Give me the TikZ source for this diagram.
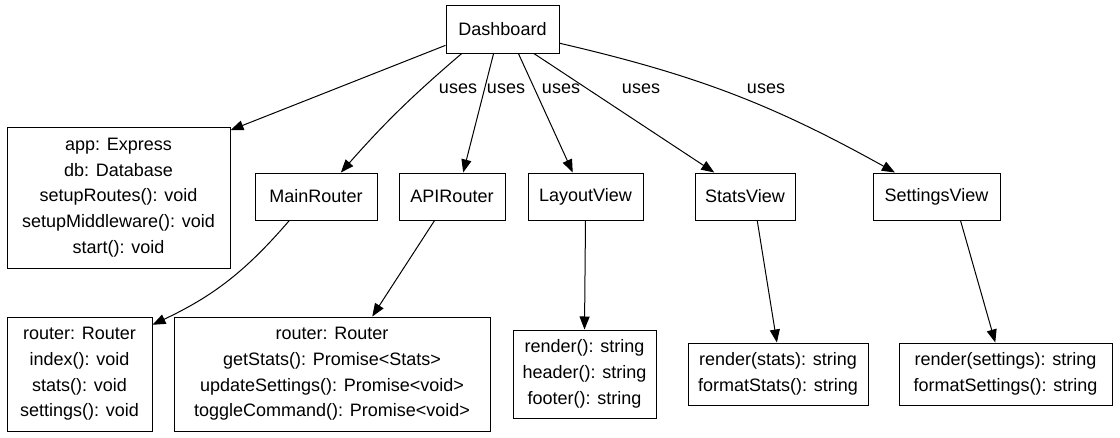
\documentclass[tikz,border=0pt]{standalone}
\usepackage{fontspec}
\setmainfont{Liberation Sans}
\usetikzlibrary{arrows.meta}

\tikzset{
  box/.style={draw, line width=1pt, inner sep=0pt, align=center,
    font=\fontsize{18}{25.7}\selectfont},
  dep/.style={line width=1pt, -{Triangle[length=13pt, width=10pt]}},
  lbl/.style={inner sep=0pt, font=\fontsize{18}{22}\selectfont}
}

\begin{document}
\begin{tikzpicture}[x=1pt, y=-1pt]
    \useasboundingbox (0,0) rectangle (1120,437);

    % Top node
    \node[box, minimum width=113pt, minimum height=48pt] (dash) at (502.5,29) {Dashboard};

    % Middle row
    \node[box, minimum width=223pt, minimum height=141pt] (app) at (118.5,197.5)
      {app: Express\\db: Database\\setupRoutes(): void\\setupMiddleware(): void\\start(): void};
    \node[box, minimum width=122pt, minimum height=47pt] (main) at (316,196.5) {MainRouter};
    \node[box, minimum width=106pt, minimum height=47pt] (api) at (452,196.5) {APIRouter};
    \node[box, minimum width=115pt, minimum height=47pt] (layout) at (585.5,196.5) {LayoutView};
    \node[box, minimum width=100pt, minimum height=47pt] (stats) at (745,196.5) {StatsView};
    \node[box, minimum width=127pt, minimum height=47pt] (settings) at (936.5,196.5) {SettingsView};

    % Bottom row (members)
    \node[box, minimum width=145pt, minimum height=114pt] (mainm) at (79.5,374)
      {router: Router\\index(): void\\stats(): void\\settings(): void};
    \node[box, minimum width=316pt, minimum height=114pt] (apim) at (332,374)
      {router: Router\\getStats(): Promise<Stats>\\updateSettings(): Promise<void>\\toggleCommand(): Promise<void>};
    \node[box, minimum width=143pt, minimum height=88pt] (layoutm) at (584.5,374)
      {render(): string\\header(): string\\footer(): string};
    \node[box, minimum width=180pt, minimum height=62pt] (statsm) at (778,374)
      {render(stats): string\\formatStats(): string};
    \node[box, minimum width=213pt, minimum height=62pt] (settingsm) at (1005.5,374)
      {render(settings): string\\formatSettings(): string};

    % Edges from Dashboard
    \draw[dep] (dash.196) -- (app.31);
    \draw[dep] (dash.211) to[bend right=4] (main.44);
    \draw[dep] (dash.250.5) -- (api.65);
    \draw[dep] (dash.303) -- (layout.118);
    \draw[dep] (dash.322) -- (stats.142);
    \draw[dep] (dash.346) to[bend left=8] (settings.150.5);

    % Edge labels
    \node[lbl] (u1) at (458,89) {uses};
    \node[lbl] (u2) at (506,89) {uses};
    \node[lbl] (u3) at (561,89) {uses};
    \node[lbl] (u4) at (641,89) {uses};
    \node[lbl] (u5) at (766,89) {uses};

    % Edges to member boxes
    \draw[dep] (main.222) to[bend left=12] (mainm.34);
    \draw[dep] (api.234) -- (apim.55);
    \draw[dep] (layout.south) -- (layoutm.north);
    \draw[dep] (stats.297) -- (statsm.92);
    \draw[dep] (settings.315) -- (settingsm.108.7);
\end{tikzpicture}
\end{document}
